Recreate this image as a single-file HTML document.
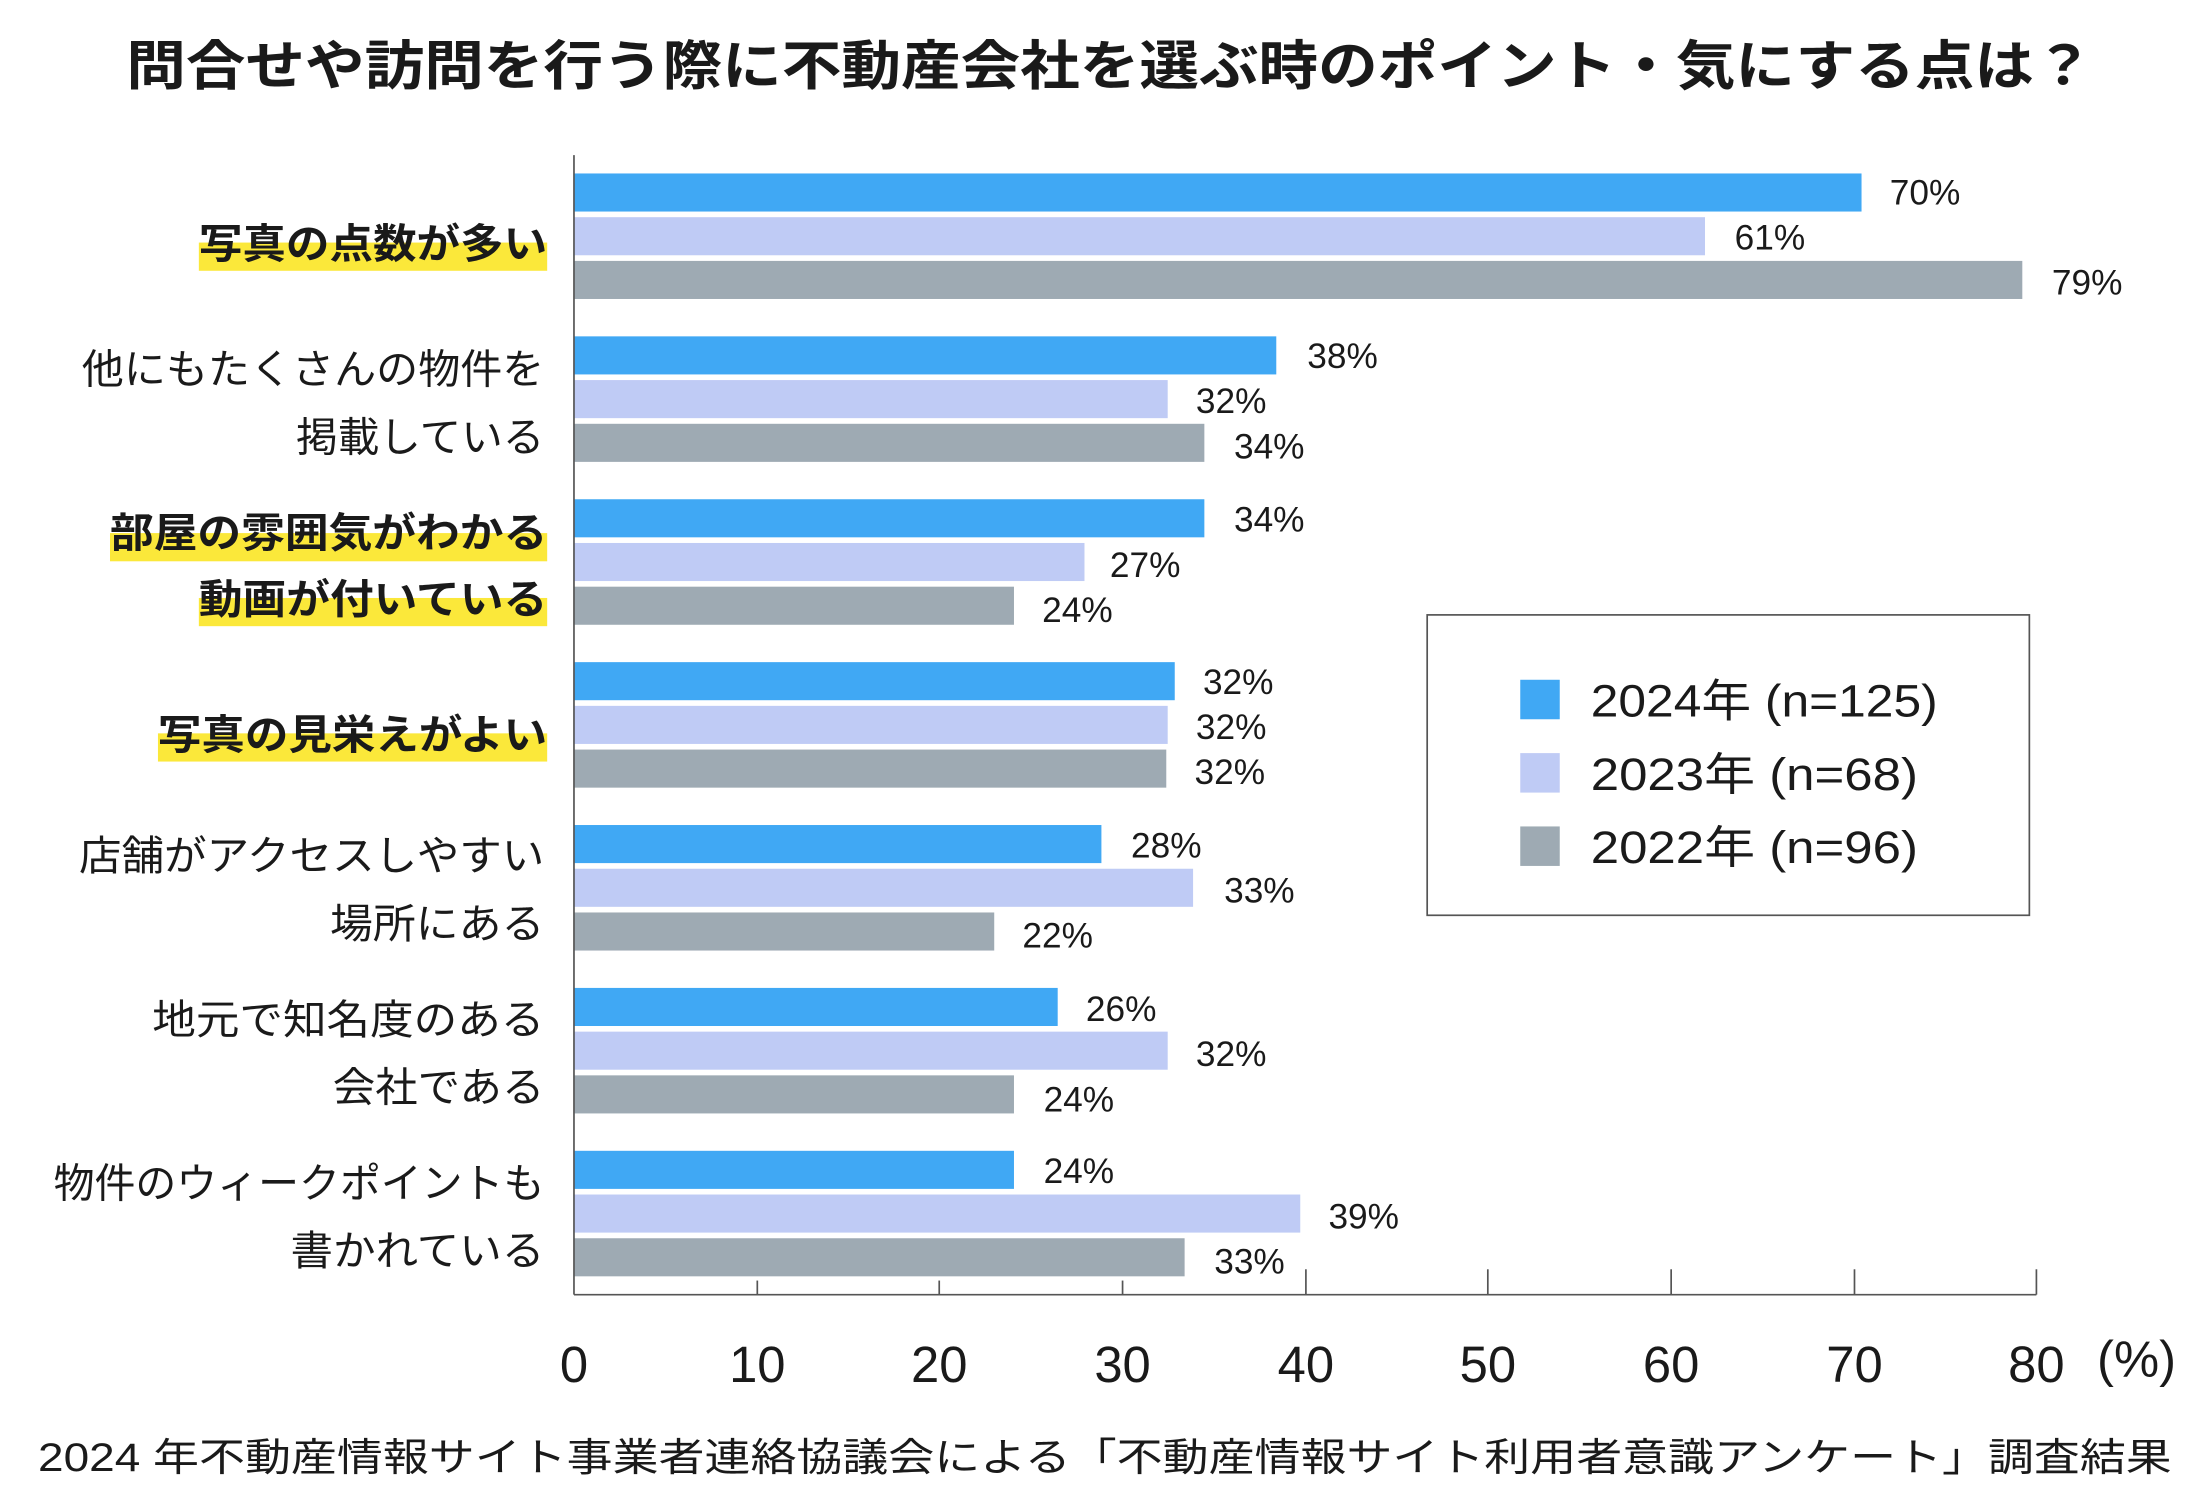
<!DOCTYPE html>
<html><head><meta charset="utf-8"><style>
html,body{margin:0;padding:0;background:#fff;}
svg{display:block;}
text{font-family:"Liberation Sans","Noto Sans CJK JP",sans-serif;fill:#1a1a1a;}
.jp{font-family:"Noto Sans CJK JP",sans-serif;}
</style></head><body>
<svg width="2200" height="1500" viewBox="0 0 1560 1063.6" preserveAspectRatio="none" xmlns="http://www.w3.org/2000/svg">
<rect width="1560" height="1064" fill="#fff"/>
<text x="787" y="60" text-anchor="middle" class="jp" font-size="38" font-weight="bold" textLength="1395" lengthAdjust="spacingAndGlyphs">問合せや訪問を行う際に不動産会社を選ぶ時のポイント・気にする点は？</text>

<!-- highlights -->
<g fill="#fbe83a">
<rect x="141" y="172" width="247" height="20"/>
<rect x="78" y="378" width="310" height="20"/>
<rect x="141" y="424" width="247" height="20"/>
<rect x="112" y="520" width="276" height="20"/>
</g>
<g class="jp" font-size="29" text-anchor="end">
<text x="388" y="183" font-weight="bold" textLength="247" lengthAdjust="spacingAndGlyphs">写真の点数が多い</text>
<text x="386" y="272" textLength="328" lengthAdjust="spacingAndGlyphs">他にもたくさんの物件を</text>
<text x="386" y="320" textLength="176" lengthAdjust="spacingAndGlyphs">掲載している</text>
<text x="388" y="388" font-weight="bold" textLength="310" lengthAdjust="spacingAndGlyphs">部屋の雰囲気がわかる</text>
<text x="388" y="435" font-weight="bold" textLength="247" lengthAdjust="spacingAndGlyphs">動画が付いている</text>
<text x="388" y="531" font-weight="bold" textLength="276" lengthAdjust="spacingAndGlyphs">写真の見栄えがよい</text>
<text x="386" y="617" textLength="330" lengthAdjust="spacingAndGlyphs">店舗がアクセスしやすい</text>
<text x="386" y="665" textLength="152" lengthAdjust="spacingAndGlyphs">場所にある</text>
<text x="386" y="733" textLength="278" lengthAdjust="spacingAndGlyphs">地元で知名度のある</text>
<text x="386" y="781" textLength="150" lengthAdjust="spacingAndGlyphs">会社である</text>
<text x="386" y="849" textLength="348" lengthAdjust="spacingAndGlyphs">物件のウィークポイントも</text>
<text x="386" y="897" textLength="180" lengthAdjust="spacingAndGlyphs">書かれている</text>
</g>

<!-- bars: x0=407, 12.96 per % -->
<g id="bars"></g>
<g fill="#40a8f4">
<rect x="407" y="123" width="913" height="27"/>
<rect x="407" y="238.5" width="498" height="27"/>
<rect x="407" y="354" width="447" height="27"/>
<rect x="407" y="469.5" width="426" height="27"/>
<rect x="407" y="585" width="374" height="27"/>
<rect x="407" y="700.5" width="343" height="27"/>
<rect x="407" y="816" width="312" height="27"/>
</g>
<g fill="#bfcbf5">
<rect x="407" y="154" width="802" height="27"/>
<rect x="407" y="269.5" width="421" height="27"/>
<rect x="407" y="385" width="362" height="27"/>
<rect x="407" y="500.5" width="421" height="27"/>
<rect x="407" y="616" width="439" height="27"/>
<rect x="407" y="731.5" width="421" height="27"/>
<rect x="407" y="847" width="515" height="27"/>
</g>
<g fill="#9eaab3">
<rect x="407" y="185" width="1027" height="27"/>
<rect x="407" y="300.5" width="447" height="27"/>
<rect x="407" y="416" width="312" height="27"/>
<rect x="407" y="531.5" width="420" height="27"/>
<rect x="407" y="647" width="298" height="27"/>
<rect x="407" y="762.5" width="312" height="27"/>
<rect x="407" y="878" width="433" height="27"/>
</g>

<g font-size="25">
<text x="1340" y="145">70%</text><text x="1230" y="177">61%</text><text x="1455" y="209">79%</text>
<text x="927" y="261">38%</text><text x="848" y="293">32%</text><text x="875" y="325">34%</text>
<text x="875" y="377">34%</text><text x="787" y="409">27%</text><text x="739" y="441">24%</text>
<text x="853" y="492">32%</text><text x="848" y="524">32%</text><text x="847" y="556">32%</text>
<text x="802" y="608">28%</text><text x="868" y="640">33%</text><text x="725" y="672">22%</text>
<text x="770" y="724">26%</text><text x="848" y="756">32%</text><text x="740" y="788">24%</text>
<text x="740" y="839">24%</text><text x="942" y="871">39%</text><text x="861" y="903">33%</text>
</g>

<!-- axes -->
<g stroke="#555" stroke-width="1.2">
<line x1="407" y1="110" x2="407" y2="918"/>
<line x1="407" y1="918" x2="1444" y2="918"/>
<line x1="537" y1="908" x2="537" y2="918"/><line x1="666" y1="908" x2="666" y2="918"/>
<line x1="796" y1="908" x2="796" y2="918"/><line x1="926" y1="900" x2="926" y2="918"/>
<line x1="1055" y1="900" x2="1055" y2="918"/><line x1="1185" y1="900" x2="1185" y2="918"/>
<line x1="1315" y1="900" x2="1315" y2="918"/><line x1="1444" y1="900" x2="1444" y2="918"/>
</g>
<g font-size="36" text-anchor="middle">
<text x="407" y="980">0</text><text x="537" y="980">10</text><text x="666" y="980">20</text>
<text x="796" y="980">30</text><text x="926" y="980">40</text><text x="1055" y="980">50</text>
<text x="1185" y="980">60</text><text x="1315" y="980">70</text><text x="1444" y="980">80</text>
<text x="1515" y="976">(%)</text>
</g>

<!-- legend -->
<rect x="1012" y="436" width="427" height="213" fill="#fff" stroke="#555" stroke-width="1.2"/>
<rect x="1078" y="482" width="28" height="28" fill="#40a8f4"/>
<rect x="1078" y="534" width="28" height="28" fill="#bfcbf5"/>
<rect x="1078" y="586" width="28" height="28" fill="#9eaab3"/>
<g font-size="32">
<text x="1128" y="508" textLength="246" lengthAdjust="spacingAndGlyphs">2024年 (n=125)</text>
<text x="1128" y="560" textLength="232" lengthAdjust="spacingAndGlyphs">2023年 (n=68)</text>
<text x="1128" y="612" textLength="232" lengthAdjust="spacingAndGlyphs">2022年 (n=96)</text>
</g>

<text x="27" y="1043" font-size="28" textLength="1513" lengthAdjust="spacingAndGlyphs">2024 年不動産情報サイト事業者連絡協議会による「不動産情報サイト利用者意識アンケート」調査結果</text>
</svg>
</body></html>
